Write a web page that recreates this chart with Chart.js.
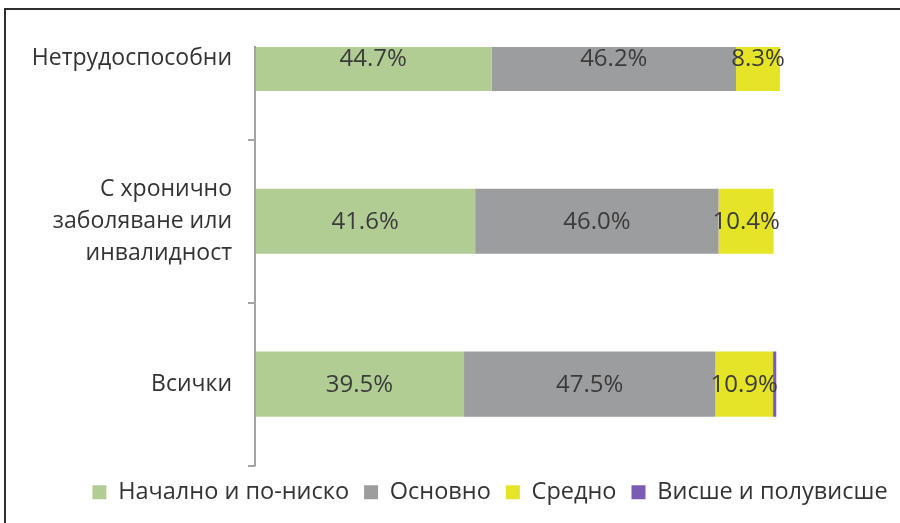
<!DOCTYPE html>
<html>
<head>
<meta charset="utf-8">
<script src="https://cdn.jsdelivr.net/npm/chart.js@4"></script>
<style>
  body { margin: 0; background: #fff; }
  #wrap { position: relative; width: 900px; height: 523px; overflow: hidden; background: #fff; }
  #frame { position: absolute; left: 4px; top: 8px; width: 920px; height: 540px;
           border-left: 2px solid #2e2e2e; border-top: 2px solid #2e2e2e; }
  #chart { position: absolute; left: 0; top: -55px; }
</style>
</head>
<body>
<div id="wrap">
  <canvas id="chart" width="980" height="578"></canvas>
  <div id="frame"></div>
</div>
<script>
const categories = ['Нетрудоспособни', ['С хронично', 'заболяване или', 'инвалидност'], 'Всички'];
const seriesNames = ['Начално и по-ниско', 'Основно', 'Средно', 'Висше и полувисше'];
const primary = [44.7, 41.6, 39.5];
const basic = [46.2, 46.0, 47.5];
const secondary = [8.3, 10.4, 10.9];
const higher = [0, 0, 0.6];
const colors = ['#b2cd93', '#9c9d9f', '#e6e427', '#7a5cb4'];

const TOP_CUT = 70; // the top band is cut off in the original picture
const FONT = '"Open Sans", "DejaVu Sans", sans-serif';

const ctx = document.getElementById('chart').getContext('2d');

const valueLabels = {
  id: 'valueLabels',
  afterDatasetsDraw(chart) {
    const c = chart.ctx;
    c.save();
    c.font = '24px ' + FONT;
    c.fillStyle = '#3b3b3b';
    c.textAlign = 'center';
    c.textBaseline = 'middle';
    for (let d = 0; d < 3; d++) {
      const meta = chart.getDatasetMeta(d);
      meta.data.forEach((bar, i) => {
        const v = chart.data.datasets[d].data[i];
        if (!v) return;
        c.fillText(v.toFixed(1) + '%', (bar.x + bar.base) / 2, bar.y + 1);
      });
    }
    c.restore();
  }
};

const axisLine = {
  id: 'axisLine',
  afterDraw(chart) {
    const a = chart.chartArea;
    const c = chart.ctx;
    c.save();
    c.strokeStyle = '#a3a3a3';
    c.lineWidth = 2;
    c.beginPath();
    c.moveTo(a.left, a.top + TOP_CUT - 1);
    c.lineTo(a.left, a.bottom + 1);
    c.stroke();
    c.restore();
  }
};

function makeSet(i, data) {
  return {
    label: seriesNames[i],
    data: data,
    backgroundColor: colors[i],
    borderWidth: 0,
    categoryPercentage: 0.4,
    barPercentage: 1,
    clip: { left: 0, top: -TOP_CUT, right: 0, bottom: 0 }
  };
}

new Chart(ctx, {
  type: 'bar',
  data: {
    labels: categories,
    datasets: [
      makeSet(0, primary),
      makeSet(1, basic),
      makeSet(2, secondary),
      makeSet(3, higher)
    ]
  },
  options: {
    indexAxis: 'y',
    responsive: false,
    animation: false,
    layout: { padding: { left: 0, right: 0, top: 15, bottom: 9 } },
    scales: {
      x: { stacked: true, display: false, min: 0, max: 137 },
      y: {
        stacked: true,
        border: { display: false },
        grid: { drawOnChartArea: false, drawTicks: true, tickLength: 7, color: '#a3a3a3', lineWidth: 2, offset: true },
        ticks: { color: '#333', padding: 16, font: { family: FONT, size: 23, lineHeight: 1.4 } },
        afterFit(scale) { scale.width = 255; }
      }
    },
    plugins: {
      tooltip: { enabled: false },
      legend: {
        position: 'bottom',
        labels: {
          boxWidth: 14,
          boxHeight: 14,
          padding: 15,
          color: '#333',
          font: { family: FONT, size: 23.5 }
        }
      }
    }
  },
  plugins: [valueLabels, axisLine]
});
</script>
</body>
</html>
